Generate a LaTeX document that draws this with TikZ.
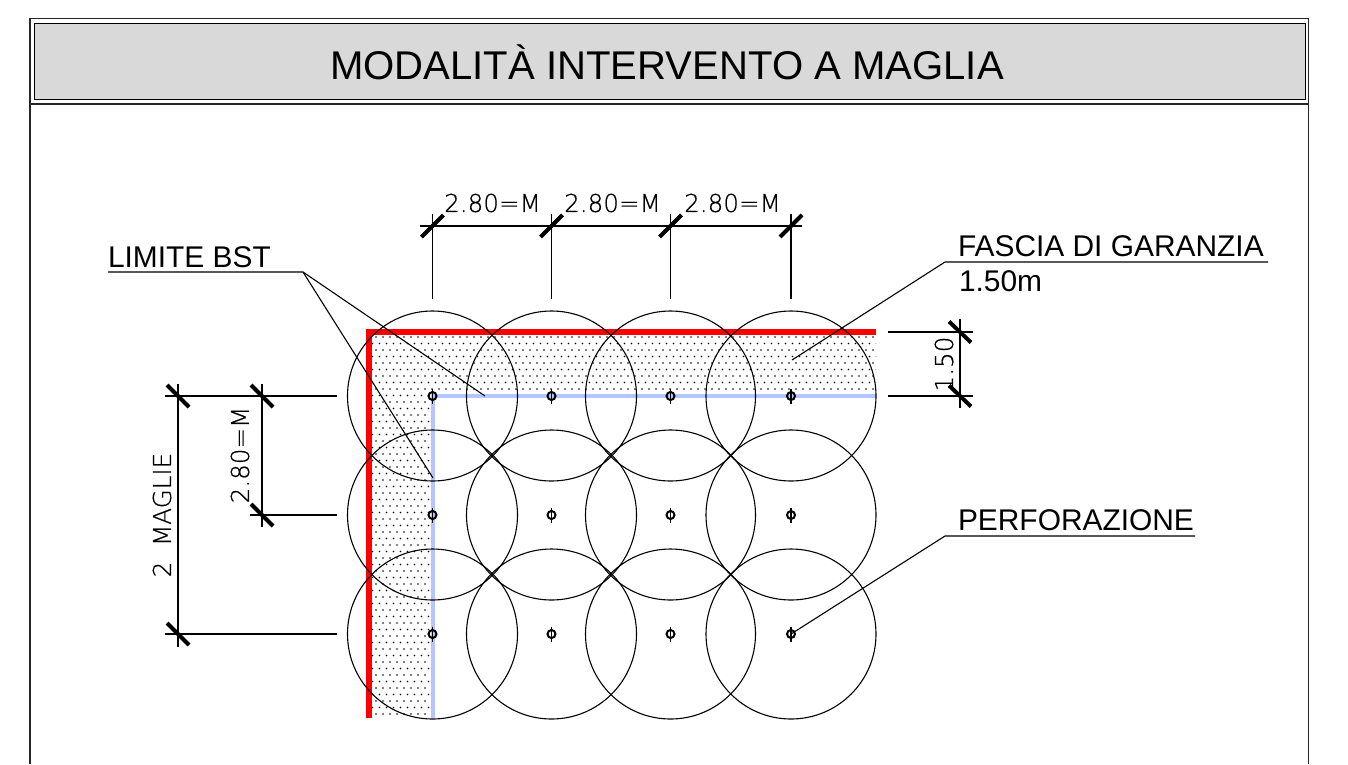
\documentclass[tikz,border=0pt]{standalone}
\usepackage{fontspec}
\setmainfont{Liberation Sans}
\newfontfamily\dimfont[FakeBold=0.5]{DejaVu Sans ExtraLight}
\usetikzlibrary{calc}
\definecolor{titlegrey}{HTML}{D9D9D9}
\definecolor{bstblue}{HTML}{B3C6FF}
\tikzset{
  frameline/.style={line width=1.3pt,draw=black!85},
  thin line/.style={line width=1.1pt,draw=black},
  ring/.style={line width=1.1pt,draw=black},
  tickmark/.style={line width=4pt,draw=black},
  lbl/.style={font=\fontsize{29.9}{32}\selectfont,anchor=base west,inner sep=0pt,outer sep=0pt},
  dimlbl/.style={font=\dimfont\fontsize{24.6}{27}\selectfont,inner sep=0pt,outer sep=0pt},
}
\begin{document}
\begin{tikzpicture}[x=1pt,y=-1pt]
\useasboundingbox (0,0) rectangle (1348,764);
% frame
\draw[frameline] (30,764) -- (30,18.5) -- (1308.5,18.5) -- (1308.5,764);
\draw[frameline] (30,104) -- (1308.5,104);
\node[draw=black,line width=1.3pt,fill=titlegrey,minimum width=1270.5pt,minimum height=76pt,inner sep=0pt,anchor=north west] (titlebox) at (34,23) {};
\node[font=\fontsize{40.1}{44}\selectfont,inner sep=0pt] (title) at (667,62) {MODALITÀ INTERVENTO A MAGLIA};
% stippled band
\begin{scope}
\clip (369,332) -- (876,332) -- (876,396) -- (433,396) -- (433,718) -- (369,718) -- cycle;
\foreach \r in {0,...,60}{
  \pgfmathsetmacro{\yy}{337+6.5*\r}
  \pgfmathsetmacro{\xo}{mod(\r,2)==0 ? 376 : 372.5}
  \ifdim\yy pt<396pt
    \foreach \c in {0,...,72}{\fill[black] ({\xo+7*\c},\yy) circle[radius=0.85];}
  \else
    \foreach \c in {0,...,9}{\fill[black] ({\xo+7*\c},\yy) circle[radius=0.85];}
  \fi
}
\end{scope}
% centres
\foreach \n/\x in {a/432.5,b/551.5,c/670.5,d/791}{
  \foreach \m/\y in {1/396,2/515,3/634}{
    \coordinate (\n\m) at (\x,\y);
  }
}
% BST limit and guarantee line
\coordinate (blueS) at (433,718);
\coordinate (blueC) at (433,396);
\coordinate (blueE) at (876,396);
\coordinate (redS) at (369,718);
\coordinate (redC) at (369,332);
\coordinate (redE) at (876,332);
\draw[bstblue,line width=4.5pt,line join=miter] (blueS) -- (blueC) -- (blueE);
\draw[red,line width=6pt,line join=miter] (redS) -- (redC) -- (redE);
% circles and holes
\foreach \p in {a1,b1,c1,d1,a2,b2,c2,d2,a3,b3,c3,d3}{
  \draw[ring] (\p) circle[radius=85];
  \draw[line width=2pt] (\p) circle[radius=4];
  \draw[line width=1.2pt] ($(\p)+(0,-7.5)$) -- ($(\p)+(0,7.5)$);
}
% top dimensions
\coordinate (tl) at (420,226);
\coordinate (tr) at (802,226);
\draw[thin line] (tl) -- (tr);
\foreach \x in {432.5,551.5,670.5,791}{
  \draw[thin line] (\x,214) -- (\x,299);
  \draw[tickmark] (\x-11,237) -- (\x+11,215);
}
\node[dimlbl] (t1) at (492.5,203) {2.80=M};
\node[dimlbl] (t2) at (612.5,203) {2.80=M};
\node[dimlbl] (t3) at (732.5,203) {2.80=M};
% left dimensions
\draw[thin line] (165,396) -- (337,396);
\draw[thin line] (250,515) -- (337,515);
\draw[thin line] (165,634) -- (337,634);
\draw[thin line] (178,384) -- (178,647);
\draw[thin line] (262,384) -- (262,527);
\foreach \x/\y in {178/396,262/396,262/515,178/634}{
  \draw[tickmark] (\x-11,\y-11) -- (\x+11,\y+11);
}
\node[dimlbl,rotate=90] (l1) at (240,455) {2.80=M};
\node[dimlbl,rotate=90] (l2) at (162,515) {2\ \ MAGLIE};
% right dimension
\draw[thin line] (888,332) -- (973,332);
\draw[thin line] (888,396) -- (973,396);
\draw[thin line] (960,319) -- (960,408);
\foreach \y in {332,396}{
  \draw[tickmark] (949,\y-10.5) -- (971,\y+10.5);
}
\node[dimlbl,rotate=90] (r1) at (944,364) {1.50};
% labels and leaders
\node[lbl] (limite) at (108,267) {LIMITE BST};
\node[lbl] (fascia) at (958,256) {FASCIA DI GARANZIA};
\node[lbl] (metri) at (959,291) {1.50m};
\node[lbl] (perf) at (958,530) {PERFORAZIONE};
\coordinate (limL) at (108,272);
\coordinate (limR) at (303,272);
\coordinate (limA) at (485,396);
\coordinate (limB) at (433,478);
\draw[thin line] (limL) -- (limR) -- (limA);
\draw[thin line] (limR) -- (limB);
\coordinate (fasL) at (945,262);
\coordinate (fasR) at (1268,262);
\coordinate (fasA) at (792,360);
\draw[thin line] (fasR) -- (fasL) -- (fasA);
\coordinate (perL) at (945,536);
\coordinate (perR) at (1195,536);
\draw[thin line] (perR) -- (perL) -- (d3);
\end{tikzpicture}
\end{document}
